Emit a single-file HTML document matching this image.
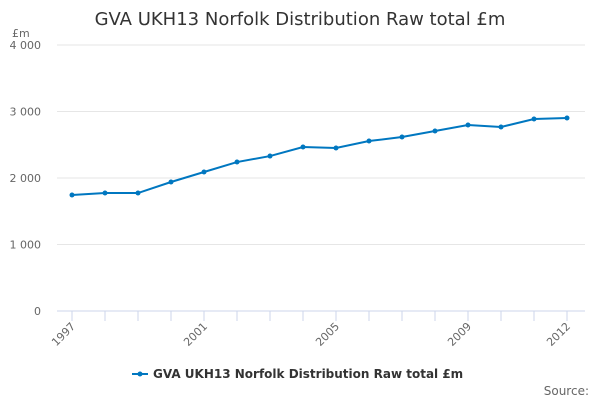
<!DOCTYPE html>
<html><head><meta charset="utf-8"><style>
body{margin:0;width:600px;height:400px;background:#fff;font-family:"DejaVu Sans","Liberation Sans",sans-serif;overflow:hidden}
</style></head><body>
<svg id="c" width="600" height="400" xmlns="http://www.w3.org/2000/svg">
<text x="300" y="25" text-anchor="middle" font-size="18" fill="#333">GVA UKH13 Norfolk Distribution Raw total £m</text>
<text x="12" y="37" font-size="11" fill="#666">£m</text>
<g id="grid"></g><g id="xt"></g><g id="series"></g>
<g>
<line x1="132" y1="374" x2="148" y2="374" stroke="#0077c0" stroke-width="2"/>
<circle cx="140" cy="374" r="2.5" fill="#0077c0"/>
<text x="153" y="378" font-size="12" font-weight="bold" fill="#333">GVA UKH13 Norfolk Distribution Raw total £m</text>
</g>
<text x="589" y="395" text-anchor="end" font-size="12" fill="#666">Source:</text>
</svg>
<script>
const years=[1997,1998,1999,2000,2001,2002,2003,2004,2005,2006,2007,2008,2009,2010,2011,2012];
const values=[1744,1774,1774,1940,2090,2240,2330,2466,2451,2556,2616,2707,2797,2767,2887,2902];
const yTicks=[0,1000,2000,3000,4000];
const yTickLabels=["0","1 000","2 000","3 000","4 000"];
const xLabelYears=[1997,2001,2005,2009,2012];
const NS="http://www.w3.org/2000/svg";
const y=v=>311-v*(266/4000);
const x=yr=>72+(yr-1997)*33;
function mk(t,a,p){const e=document.createElementNS(NS,t);for(const k in a)e.setAttribute(k,a[k]);p.appendChild(e);return e;}
const g=document.getElementById('grid');
yTicks.forEach((t,i)=>{
 const l=mk('line',{x1:57,x2:585,y1:y(t),y2:y(t),stroke:t===0?'#ccd6eb':'#e6e6e6'},g);
 
 
 const tx=mk('text',{x:41,y:y(t)+4,'text-anchor':'end','font-size':11,fill:'#666'},g);
 tx.textContent=yTickLabels[i];
 
 
});
const xt=document.getElementById('xt');
years.forEach(yr=>{
 const l=mk('line',{x1:x(yr),x2:x(yr),y1:311,y2:321,stroke:'#ccd6eb'},xt);
 
 
});
xLabelYears.forEach(yr=>{
 const t=mk('text',{x:x(yr)+4,y:327,'text-anchor':'end','font-size':11,fill:'#666',transform:`rotate(-45 ${x(yr)+4} 327)`},xt);
 t.textContent=yr;
 
 
});
const s=document.getElementById('series');
const p=mk('path',{d:values.map((v,i)=>(i?'L':'M')+x(years[i])+' '+y(v)).join(' '),fill:'none',stroke:'#0077c0','stroke-width':2},s);


values.forEach((v,i)=>{
 const c=mk('circle',{cx:x(years[i]),cy:y(v),r:2.5,fill:'#0077c0'},s);
 
 
});
</script>
</body></html>
